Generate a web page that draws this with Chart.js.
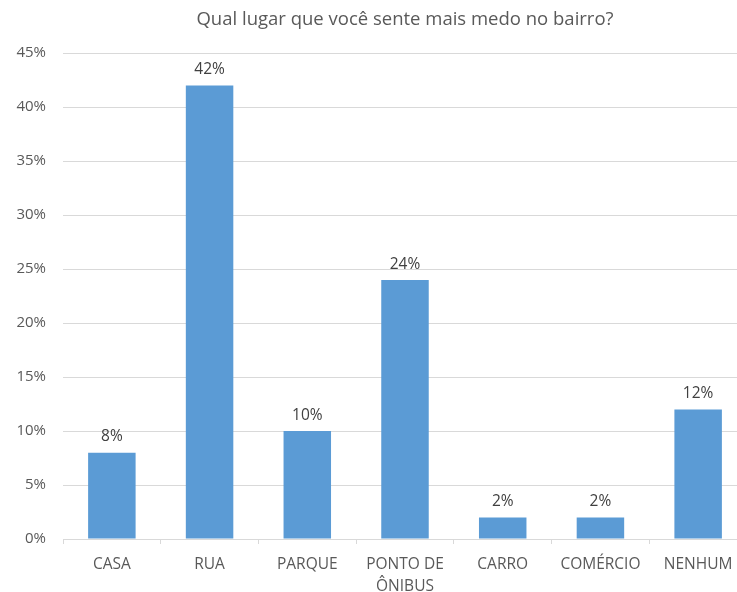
<!DOCTYPE html>
<html>
<head>
<meta charset="utf-8">
<script src="https://cdn.jsdelivr.net/npm/chart.js@4"></script>
<style>
  html, body { margin: 0; padding: 0; overflow: hidden; background: #fff; }
  #wrap { width: 796px; height: 592px; }
</style>
</head>
<body>
<div id="wrap"><canvas id="myChart_bar"></canvas></div>
<script>
const categories = ['CASA', 'RUA', 'PARQUE', ['PONTO DE', 'ÔNIBUS'], 'CARRO', 'COMÉRCIO', 'NENHUM'];
const values = [8, 42, 10, 24, 2, 2, 12];
const yTicks = ['0%', '5%', '10%', '15%', '20%', '25%', '30%', '35%', '40%', '45%'];

const fontFamily = '"Open Sans", "Noto Sans", sans-serif';

// labels above each bar
const barLabels = {
  id: 'barLabels',
  afterDatasetsDraw(chart) {
    const ctx = chart.ctx;
    const meta = chart.getDatasetMeta(0);
    ctx.save();
    ctx.font = '15.5px ' + fontFamily;
    ctx.fillStyle = '#404040';
    ctx.textAlign = 'center';
    ctx.textBaseline = 'bottom';
    meta.data.forEach((bar, i) => {
      ctx.fillText(values[i] + '%', bar.x, bar.y - 8);
    });
    ctx.restore();
  }
};

const myChart_bar = document.getElementById('myChart_bar');

new Chart(myChart_bar, {
  type: 'bar',
  data: {
    labels: categories,
    datasets: [{
      data: values,
      backgroundColor: '#5B9BD5',
      borderWidth: 0,
      barPercentage: 0.486,
      categoryPercentage: 1
    }]
  },
  options: {
    responsive: true,
    maintainAspectRatio: false,
    animation: false,
    layout: { padding: { left: 0, right: 49, top: 0, bottom: 0 } },
    plugins: {
      legend: { display: false },
      tooltip: { enabled: false },
      title: {
        display: true,
        fullSize: false,
        text: 'Qual lugar que você sente mais medo no bairro?',
        color: '#595959',
        font: { family: fontFamily, size: 18.5, weight: 'normal' },
        padding: { top: 9, bottom: 22 }
      }
    },
    scales: {
      x: {
        grid: {
          display: true,
          drawOnChartArea: false,
          drawTicks: true,
          tickLength: 5,
          color: '#d9d9d9'
        },
        border: { color: '#d9d9d9' },
        ticks: {
          color: '#595959',
          font: { family: fontFamily, size: 15.5, lineHeight: 1.4 },
          padding: 10,
          maxRotation: 0,
          autoSkip: false
        },
        afterFit(scale) { scale.height = 53; }
      },
      y: {
        min: 0,
        max: 45,
        ticks: {
          stepSize: 5,
          color: '#595959',
          font: { family: fontFamily, size: 15 },
          padding: 17,
          callback: (v) => yTicks[v / 5]
        },
        grid: { color: '#d9d9d9', drawTicks: false },
        border: { display: false },
        afterFit(scale) { scale.width = 63; }
      }
    }
  },
  plugins: [barLabels]
});
</script>
</body>
</html>
